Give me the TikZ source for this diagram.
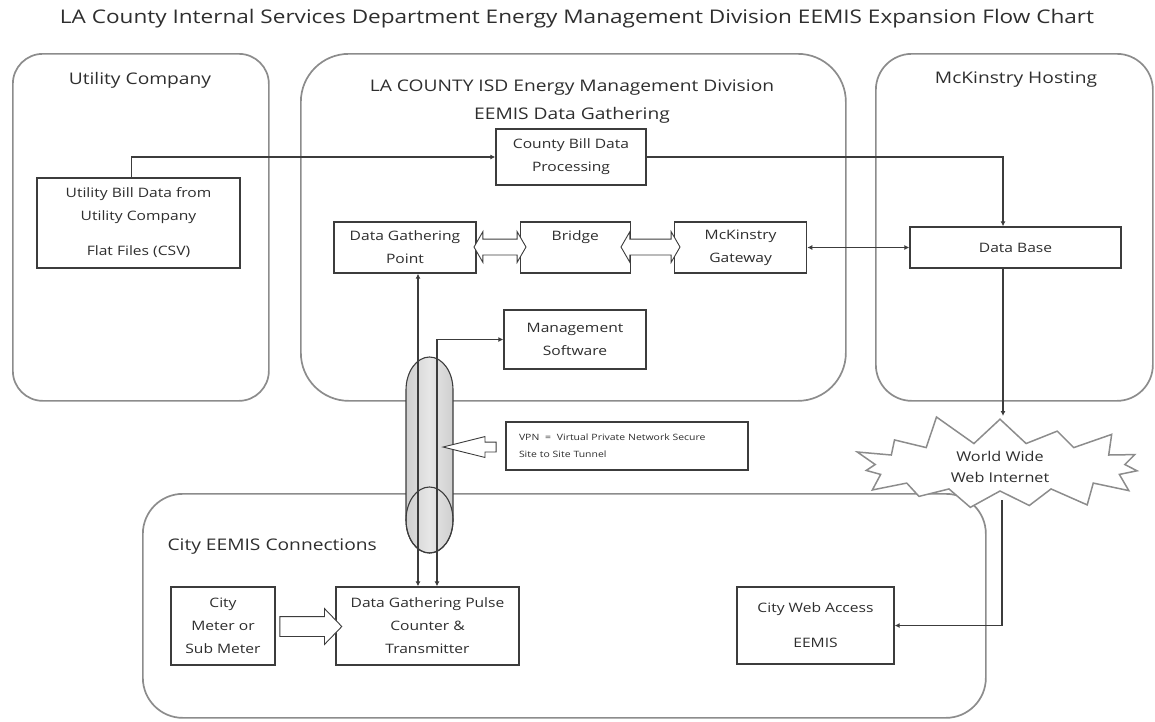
\documentclass[tikz,border=0pt]{standalone}
\usepackage{fontspec}
\setmainfont{Open Sans}[FakeStretch=1.2]
\usetikzlibrary{arrows.meta,positioning,shapes.geometric,shapes.symbols,shapes.arrows}
\definecolor{ink}{HTML}{3C3C3C}
\definecolor{frame}{HTML}{8C8C8C}
\definecolor{txt}{HTML}{2E2E2E}
\definecolor{pipe}{HTML}{CFCFCF}
\definecolor{pipeend}{HTML}{E6E6E6}
\tikzset{
  panel/.style={draw=frame,line width=1.7pt,anchor=north west,inner sep=0pt},
  head/.style={font=\fontsize{16}{28}\selectfont,text=txt,align=center},
  box/.style={draw=ink,line width=1.3pt,fill=white,align=center,font=\fontsize{13}{23}\selectfont,text=txt,inner sep=0pt},
  flow/.style={-{Latex[length=5pt,width=5pt]},line width=1.1pt,draw=ink},
  biflow/.style={{Latex[length=5pt,width=5pt]}-{Latex[length=5pt,width=5pt]},line width=1.1pt,draw=ink},
  fat/.style={double arrow,draw=ink,line width=0.9pt,fill=white,inner xsep=0pt,inner ysep=7.5pt,double arrow head extend=7.5pt,double arrow tip angle=120},
  fatone/.style={single arrow,draw=ink,line width=0.9pt,fill=white,inner xsep=0pt},
  tube/.style={draw=ink,line width=1.1pt},
  net/.style={starburst,starburst points=15,starburst point height=32pt,random starburst=11,draw=frame,line width=1.5pt,fill=white,align=center,font=\fontsize{13.5}{21}\selectfont,text=txt,minimum width=315pt,minimum height=112pt,inner sep=0pt}
}
\begin{document}
\begin{tikzpicture}[x=1pt,y=-1pt]
  \useasboundingbox (0,0) rectangle (1155,721);
  \node[font=\fontsize{18.8}{22}\selectfont,text=txt] (title) at (577,19) {LA County Internal Services Department Energy Management Division EEMIS Expansion Flow Chart};

  % panels
  \node[panel,rounded corners=30pt,minimum width=256pt,minimum height=347pt] (utilco) at (12,53) {};
  \node[panel,rounded corners=48pt,minimum width=545pt,minimum height=347pt] (isd) at (300,53) {};
  \node[panel,rounded corners=36pt,minimum width=277pt,minimum height=347pt] (mck) at (875,53) {};
  \node[panel,rounded corners=40pt,minimum width=843pt,minimum height=224pt] (city) at (142,493) {};
  \node[head] (utilhead) at (140,80) {Utility Company};
  \node[head] (isdhead) at (572,102) {LA COUNTY ISD Energy Management Division\\EEMIS Data Gathering};
  \node[head] (mckhead) at (1016,80) {McKinstry Hosting};
  \node[head,anchor=west] (cityhead) at (164,547) {City EEMIS Connections};

  % tunnel
  \coordinate (vpn) at (429.5,455);
  \shade[left color=pipe,right color=pipe,middle color=pipeend] (406,520) -- (406,390) arc[start angle=180,end angle=360,x radius=23.5,y radius=33] -- (453,520) arc[start angle=0,end angle=180,x radius=23.5,y radius=33] -- cycle;
  \draw[tube] (406,520) -- (406,390) arc[start angle=180,end angle=360,x radius=23.5,y radius=33] -- (453,520) arc[start angle=0,end angle=180,x radius=23.5,y radius=33];
  \draw[tube] (429.5,520) ellipse[x radius=23.5,y radius=33];

  % boxes
  \node[box,minimum width=203pt,minimum height=90pt] (ubill) at (138.5,223) {Utility Bill Data from\\Utility Company\\[12pt]Flat Files (CSV)};
  \node[box,minimum width=150pt,minimum height=56pt] (cbill) at (571,157) {County Bill Data\\Processing};
  \node[box,minimum width=142pt,minimum height=51pt] (dgp) at (405,247.5) {Data Gathering\\Point};
  \node[box,minimum width=110pt,minimum height=51pt,right=43pt of dgp] (bridge) {Bridge\\\mbox{}};
  \node[box,minimum width=132pt,minimum height=51pt,right=43pt of bridge] (mgw) {McKinstry\\Gateway};
  \node[box,minimum width=211pt,minimum height=41pt] (db) at (1015.5,247.5) {Data Base};
  \node[box,minimum width=142pt,minimum height=59pt] (mgmt) at (575,339.5) {Management\\Software};
  \node[box,minimum width=242pt,minimum height=48pt,align=left,text width=216pt,font=\fontsize{8.7}{17}\selectfont] (vpnnote) at (627,446) {VPN \ = \ Virtual Private Network Secure\\Site to Site Tunnel};
  \node[box,minimum width=104pt,minimum height=78pt] (meter) at (223,626) {City\\Meter or\\Sub Meter};
  \node[box,minimum width=183pt,minimum height=78pt] (pulse) at (427.5,626) {Data Gathering Pulse\\Counter \&\\Transmitter};
  \node[box,minimum width=157pt,minimum height=77pt] (web) at (815.5,625.5) {City Web Access\\[12pt]EEMIS};
  \coordinate (netin) at (1003,416);
  \coordinate (netout) at (1002,500);

  % connectors
  \draw[flow] ([xshift=-7pt]ubill.north) |- (cbill.west);
  \draw[flow] (cbill.east) -| ([xshift=-12.5pt]db.north);
  \draw[biflow] (mgw.east) -- (db.west);
  \draw[biflow] ([xshift=13pt]dgp.south) -- ([xshift=13pt]dgp.south |- pulse.north);
  \draw[biflow] (mgmt.west) -| ([xshift=9.5pt]pulse.north);
  \draw[flow] (netout) |- (web.east);

  % hollow arrows
  \node[fat,minimum height=52pt] (hop1) at (500,247) {};
  \node[fat,minimum height=59pt] (hop2) at (650.5,247) {};
  \node[fatone,shape border rotate=180,minimum height=53pt,inner ysep=4.5pt,single arrow head extend=5.5pt,single arrow tip angle=28] (vpnarrow) at (479.5,447) {};
  \node[fatone,minimum height=62pt,inner ysep=9.5pt,single arrow head extend=8pt,single arrow tip angle=92] (feed) at (306,626.5) {};

  % internet
  \node[net] (www) at (1000,467) {World Wide\\Web Internet};
  \draw[flow] ([xshift=-12.5pt]db.south) -- (netin);
\end{tikzpicture}
\end{document}
